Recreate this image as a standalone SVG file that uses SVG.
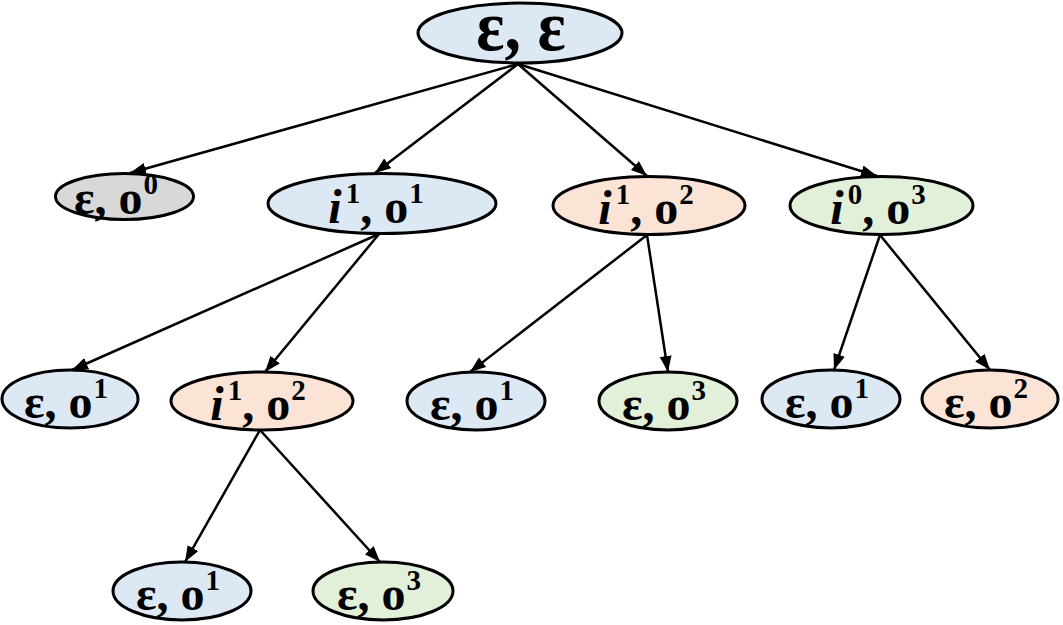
<svg xmlns="http://www.w3.org/2000/svg" width="1063" height="625" viewBox="0 0 1063 625">
<defs>
<marker id="ah" markerUnits="userSpaceOnUse" markerWidth="18" markerHeight="14" refX="16" refY="6" orient="auto">
<path d="M0,0 L16,6 L0,12 z" fill="#000"/>
</marker>
<style>
.n{stroke:#000;stroke-width:3}
.b{fill:#dde8f5}.o{fill:#fbe4d5}.g{fill:#e2efd9}.y{fill:#d8d8d8}
.t{font-family:"Liberation Serif","DejaVu Serif",serif;font-weight:bold;font-size:48px;text-anchor:middle;fill:#000}
.r{font-size:60px}
.it{font-style:italic}
.s{font-size:29px}
.e line{stroke:#000;stroke-width:2.5;marker-end:url(#ah)}
</style>
</defs>
<rect width="1063" height="625" fill="#fff"/>
<g class="e" id="edges">
<line x1="518" y1="64" x2="130" y2="173"/>
<line x1="518" y1="64" x2="375" y2="173"/>
<line x1="518" y1="64" x2="647" y2="176"/>
<line x1="518" y1="64" x2="877" y2="176"/>
<line x1="379" y1="234" x2="72" y2="370"/>
<line x1="379" y1="234" x2="265" y2="372"/>
<line x1="647" y1="235" x2="470" y2="372"/>
<line x1="647" y1="235" x2="668" y2="372"/>
<line x1="880" y1="235" x2="834" y2="370"/>
<line x1="880" y1="235" x2="990" y2="370"/>
<line x1="260" y1="430" x2="185" y2="562"/>
<line x1="260" y1="430" x2="380" y2="562"/>
</g>
<g id="root"><ellipse class="n b" cx="520" cy="33" rx="102" ry="30"/>
<text class="t r" transform="translate(521,50) scale(1.1,1.2)" x="0" y="0">ε, ε</text></g>
<g id="n1"><ellipse class="n y" cx="124.5" cy="196.5" rx="69" ry="23"/>
<text class="t" x="116" y="214">ε, o<tspan class="s" dy="-20" dx="1">0</tspan></text></g>
<g id="n2"><ellipse class="n b" cx="382" cy="203.5" rx="114" ry="30"/>
<text class="t" x="376" y="223"><tspan class="it">i</tspan><tspan class="s" dy="-20" dx="4">1</tspan><tspan dy="20">, o</tspan><tspan class="s" dy="-20" dx="1">1</tspan></text></g>
<g id="n3"><ellipse class="n o" cx="649" cy="205.5" rx="96" ry="29"/>
<text class="t" x="646" y="224"><tspan class="it">i</tspan><tspan class="s" dy="-20" dx="4">1</tspan><tspan dy="20">, o</tspan><tspan class="s" dy="-20" dx="1">2</tspan></text></g>
<g id="n4"><ellipse class="n g" cx="881.5" cy="205.5" rx="91.5" ry="29"/>
<text class="t" x="878" y="224"><tspan class="it">i</tspan><tspan class="s" dy="-20" dx="4">0</tspan><tspan dy="20">, o</tspan><tspan class="s" dy="-20" dx="1">3</tspan></text></g>
<g id="n5"><ellipse class="n b" cx="70" cy="399" rx="68" ry="29"/>
<text class="t" x="66" y="418">ε, o<tspan class="s" dy="-20" dx="1">1</tspan></text></g>
<g id="n6"><ellipse class="n o" cx="262" cy="401" rx="91" ry="29"/>
<text class="t" x="258" y="420"><tspan class="it">i</tspan><tspan class="s" dy="-20" dx="4">1</tspan><tspan dy="20">, o</tspan><tspan class="s" dy="-20" dx="1">2</tspan></text></g>
<g id="n7"><ellipse class="n b" cx="476" cy="401" rx="69" ry="29"/>
<text class="t" x="472" y="420">ε, o<tspan class="s" dy="-20" dx="1">1</tspan></text></g>
<g id="n8"><ellipse class="n g" cx="668" cy="401" rx="69" ry="29"/>
<text class="t" x="664" y="420">ε, o<tspan class="s" dy="-20" dx="1">3</tspan></text></g>
<g id="n9"><ellipse class="n b" cx="831" cy="399" rx="69" ry="29"/>
<text class="t" x="827" y="418">ε, o<tspan class="s" dy="-20" dx="1">1</tspan></text></g>
<g id="n10"><ellipse class="n o" cx="990" cy="399" rx="68" ry="29"/>
<text class="t" x="986" y="418">ε, o<tspan class="s" dy="-20" dx="1">2</tspan></text></g>
<g id="n11"><ellipse class="n b" cx="182" cy="591" rx="69" ry="29"/>
<text class="t" x="178" y="610">ε, o<tspan class="s" dy="-20" dx="1">1</tspan></text></g>
<g id="n12"><ellipse class="n g" cx="383" cy="591" rx="70" ry="29"/>
<text class="t" x="379" y="610">ε, o<tspan class="s" dy="-20" dx="1">3</tspan></text></g>
</svg>
